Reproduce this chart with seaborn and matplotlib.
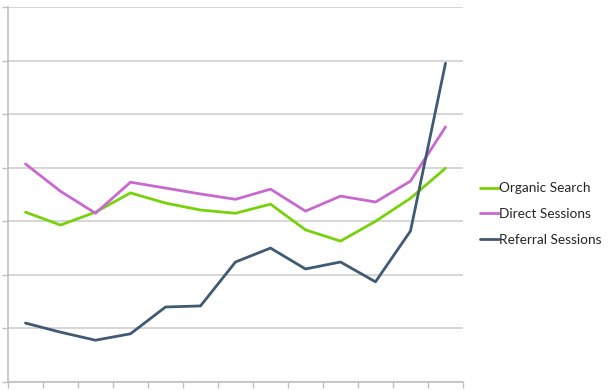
import matplotlib
matplotlib.use('Agg')
import matplotlib.pyplot as plt
import seaborn as sns
import numpy as np
import pandas as pd

# 13 periods, values (units = gridline steps)
periods = list(range(13))
organic = [3.17, 2.93, 3.17, 3.53, 3.34, 3.21, 3.15, 3.32, 2.84, 2.63, 3.00, 3.43, 3.99]
direct = [4.07, 3.56, 3.15, 3.73, 3.62, 3.51, 3.41, 3.60, 3.19, 3.47, 3.36, 3.75, 4.76]
referral = [1.10, 0.93, 0.78, 0.90, 1.40, 1.42, 2.24, 2.50, 2.11, 2.24, 1.87, 2.82, 5.95]

series_names = ['Organic Search', 'Direct Sessions', 'Referral Sessions']
palette = ['#78d20a', '#c869cf', '#405a73']

df = pd.DataFrame({
    'period': periods * 3,
    'value': organic + direct + referral,
    'series': np.repeat(series_names, len(periods)),
})

sns.set_style('white')
plt.rcParams['font.family'] = ['Lato', 'DejaVu Sans']

fig = plt.figure(figsize=(6.09, 3.91), dpi=100)
ax = fig.add_axes([8 / 609, 9 / 391, 455 / 609, 375 / 391])

sns.lineplot(data=df, x='period', y='value', hue='series', hue_order=series_names,
             palette=palette, linewidth=2.0, ax=ax, legend=False)

ax.set_xlim(-0.5, 12.5)
ax.set_ylim(0, 7)
ax.set_yticks(np.arange(0, 8, 1))
ax.set_xticks(np.arange(-0.5, 13, 1))
ax.set_xticklabels([])
ax.set_yticklabels([])
ax.set_xlabel('')
ax.set_ylabel('')
ax.grid(axis='y', color='#d0d0d0', linewidth=1.2)
ax.set_axisbelow(True)
for s in ['top', 'right']:
    ax.spines[s].set_visible(False)
for s in ['left', 'bottom']:
    ax.spines[s].set_color('#c0c0c0')
    ax.spines[s].set_linewidth(1.2)
ax.tick_params(axis='both', which='both', length=4, width=1.0, color='#c0c0c0',
               left=True, bottom=True)

handles = [plt.Line2D([], [], color=c, linewidth=2.0) for c in palette]
fig.legend(handles, series_names, loc='center left', bbox_to_anchor=(468 / 609, 1 - 214 / 391),
           frameon=False, fontsize=9.8, handlelength=1.35, handletextpad=0.0,
           labelspacing=1.0)

fig.savefig('out.png', dpi=100)
